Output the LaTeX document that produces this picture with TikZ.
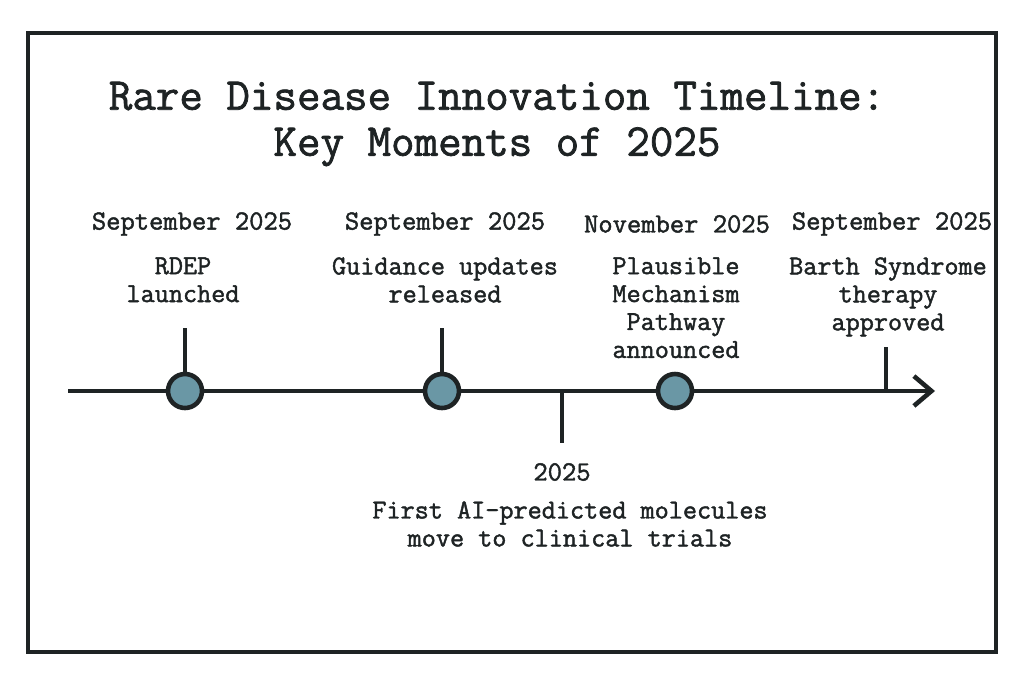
\documentclass[tikz,border=0pt]{standalone}
\usepackage{fontspec}
\setmonofont{Latin Modern Mono}[FakeBold=1.6]
\usepackage{tikz}
\usetikzlibrary{arrows.meta,positioning,calc}
\definecolor{dotblue}{HTML}{6A97A5}
\definecolor{ink}{HTML}{1E2324}

\newcommand{\pxunit}{0.02cm}
\tikzset{
  date/.style={font=\ttfamily\fontsize{15.8}{15.9}\selectfont,text=ink,inner sep=0pt},
  desc/.style={font=\ttfamily\fontsize{15.6}{15.9}\selectfont,text=ink,align=center,inner sep=0pt},
  event/.style={circle,draw=ink,fill=dotblue,line width=2.6pt,minimum size=34*\pxunit,inner sep=0pt},
  tick/.style={draw=ink,line width=2.4pt},
}

\begin{document}
\begin{tikzpicture}[x=0.02cm,y=-0.02cm,>=Stealth]
\useasboundingbox (0,0) rectangle (1024,683);
\draw[ink,line width=2.8pt] (28,33) rectangle (996,652);
% title
\node (title) [font=\ttfamily\fontsize{26}{26.2}\selectfont,text=ink,align=center,inner sep=0pt] at (497,124)
  {Rare Disease Innovation Timeline:\\ Key Moments of 2025};
% axis
\coordinate (start) at (68,391);
\coordinate (end) at (935,391);
\draw[ink,line width=2.8pt,-{Straight Barb[length=10pt,width=17pt,line width=2.6pt]}] (start) -- (end);
% events
\node (e1) [event] at (185,391) {};
\node (e2) [event] at (442,391) {};
\node (e3) [event] at (675,391) {};
\coordinate (t1) at (185,328);
\coordinate (t2) at (442,328);
\coordinate (m4) at (562,391);
\coordinate (t4) at (562,443);
\coordinate (m5) at (886,391);
\coordinate (t5) at (886,347);
\draw[tick] (e1) -- (t1);
\draw[tick] (e2) -- (t2);
\draw[tick] (m4) -- (t4);
\draw[tick] (m5) -- (t5);
% labels
\node (d1) [date] at (192,224) {September 2025};
\node (d2) [date] at (445,224) {September 2025};
\node (d3) [date] at (677,224) {November 2025};
\node (d5) [date] at (892,224) {September 2025};
\node (l1) [desc,anchor=north] at (183,257) {RDEP\\launched};
\node (l2) [desc,anchor=north] at (445,257) {Guidance updates\\released};
\node (l3) [desc,anchor=north] at (676,257) {Plausible\\Mechanism\\Pathway\\announced};
\node (l5) [desc,anchor=north] at (888,257) {Barth Syndrome\\therapy\\approved};
\node (d4) [date] at (562,472) {2025};
\node (l4) [desc,anchor=north] at (570,501) {First AI-predicted molecules\\move to clinical trials};
\end{tikzpicture}
\end{document}
